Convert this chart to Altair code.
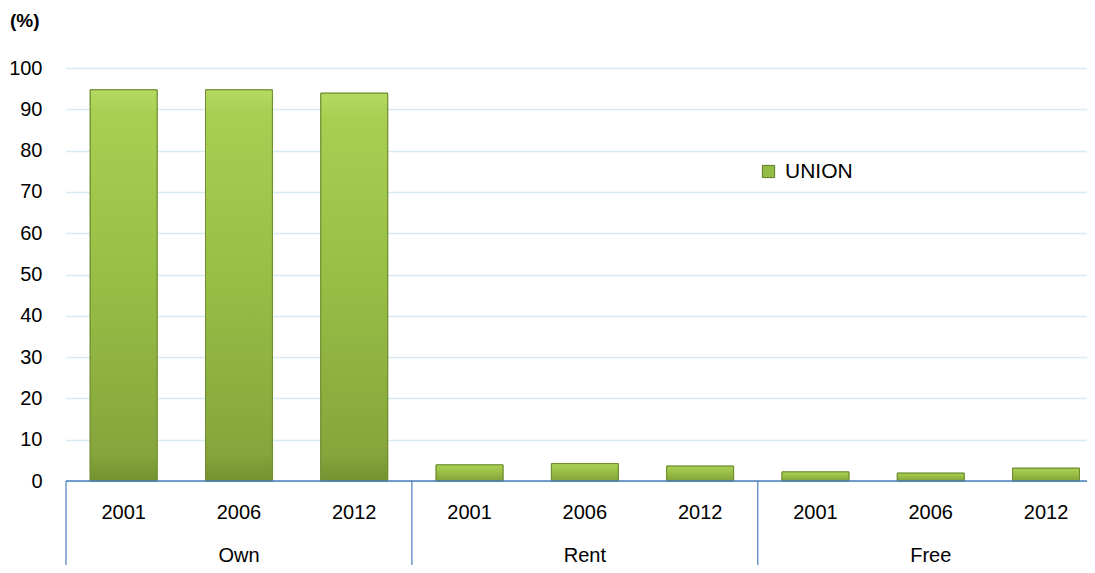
import altair as alt
import pandas as pd

groups = ["Own", "Own", "Own", "Rent", "Rent", "Rent", "Free", "Free", "Free"]
years = ["2001", "2006", "2012", "2001", "2006", "2012", "2001", "2006", "2012"]
values = [94.7, 94.7, 93.9, 3.9, 4.2, 3.6, 2.2, 1.9, 3.1]
group_names = ["Own", "Rent", "Free"]
series_name = "UNION"

df = pd.DataFrame({
    "group": groups,
    "year": years,
    "value": values,
    "series": [series_name] * len(values),
})
df["idx"] = range(len(df))
df["xc"] = df["idx"] + 0.5
df["x0"] = df["idx"] + 0.21
df["x1"] = df["idx"] + 0.79
df["zero"] = 0.0

gdf = pd.DataFrame({"group": group_names})
gdf["xc"] = [1.5, 4.5, 7.5]
div = pd.DataFrame({"xd": [0, 3, 6, 9]})

W, H = 1021, 413
FONT = "Liberation Sans, Arial"
xscale = alt.Scale(domain=[0, W / 115.3], nice=False, zero=False)

yaxis = alt.Axis(
    values=list(range(0, 101, 10)), domain=False, ticks=False,
    grid=True, gridColor="#d8ebf3", gridWidth=1.5,
    labelFont=FONT, labelFontSize=20, labelColor="#000000",
    labelPadding=24, title=None,
)
yscale = alt.Scale(domain=[0, 100], nice=False, padding=0)

base = alt.Chart(df)

bars_legend = base.mark_bar(stroke="#6e8c2e", strokeWidth=1).encode(
    x=alt.X("x0:Q", scale=xscale, axis=None),
    x2="x1:Q",
    y=alt.Y("value:Q", scale=yscale, axis=yaxis),
    y2="zero:Q",
    color=alt.Color("series:N", scale=alt.Scale(range=["#95bc45"]),
                    legend=alt.Legend(
                        title=None, orient="none", legendX=692, legendY=93,
                        symbolType="square", symbolSize=150,
                        symbolStrokeColor="#5f7a26", symbolStrokeWidth=1,
                        labelFont=FONT, labelFontSize=21, labelColor="#000000",
                        labelOffset=6)),
)

grad = alt.Gradient(
    gradient="linear", x1=0, x2=0, y1=0, y2=1,
    stops=[alt.GradientStop(color="#b5da62", offset=0),
           alt.GradientStop(color="#a8cf52", offset=0.06),
           alt.GradientStop(color="#99c046", offset=0.45),
           alt.GradientStop(color="#86a53c", offset=0.93),
           alt.GradientStop(color="#74922f", offset=1)],
)
bars_grad = base.mark_bar(fill=grad, stroke="#6e8c2e", strokeWidth=1).encode(
    x=alt.X("x0:Q", scale=xscale),
    x2="x1:Q",
    y=alt.Y("value:Q", scale=yscale),
    y2="zero:Q",
)

baseline = alt.Chart(pd.DataFrame({"v": [0]})).mark_rule(
    color="#4a7ebb", strokeWidth=1.5).encode(
    y=alt.Y("v:Q", scale=yscale),
    x=alt.value(0), x2=alt.value(W),
)

dividers = alt.Chart(div).mark_rule(color="#4a7ebb", strokeWidth=1.2).encode(
    x=alt.X("xd:Q", scale=xscale),
    y=alt.value(H), y2=alt.value(H + 95),
)

year_labels = base.mark_text(
    font=FONT, fontSize=20, color="#000000", baseline="middle").encode(
    x=alt.X("xc:Q", scale=xscale),
    y=alt.value(H + 32),
    text="year:N",
)

group_labels = alt.Chart(gdf).mark_text(
    font=FONT, fontSize=20, color="#000000", baseline="middle").encode(
    x=alt.X("xc:Q", scale=xscale),
    y=alt.value(H + 75),
    text="group:N",
)

chart = alt.layer(
    bars_legend, bars_grad, baseline, dividers, year_labels, group_labels
).properties(
    width=W, height=H,
    title=alt.TitleParams("(%)", anchor="start", font=FONT, fontSize=19,
                          fontWeight="bold", color="#000000",
                          dx=-56, dy=-27, offset=0, frame="group"),
    autosize=alt.AutoSizeParams(type="none"),
    padding={"left": 58, "top": 60, "right": 0, "bottom": 84},
).configure_view(stroke=None)

chart.save("out.html", embed_options={"renderer": "svg", "actions": False})
